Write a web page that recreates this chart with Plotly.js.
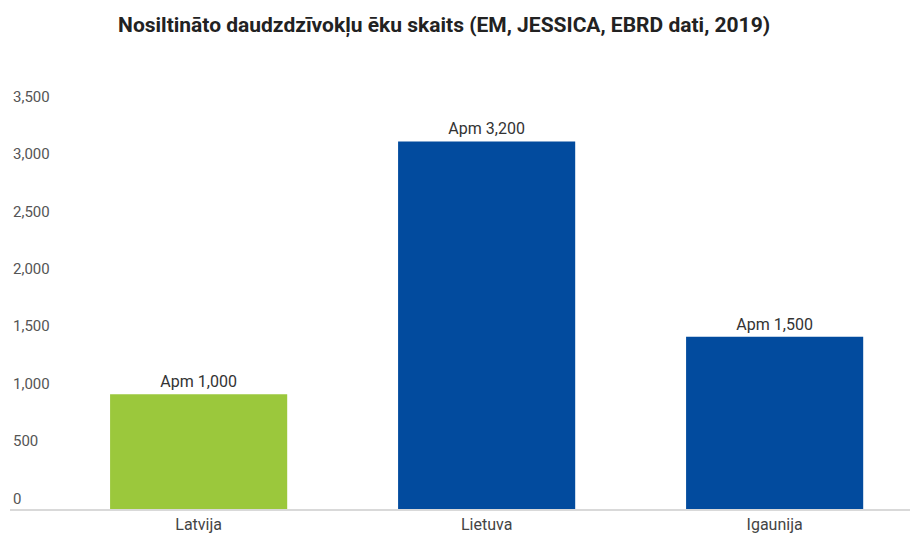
<!DOCTYPE html>
<html>
<head>
<meta charset="utf-8">
<script src="https://cdn.plot.ly/plotly-3.0.1.min.js"></script>
<style>html,body{margin:0;padding:0;background:#fff;}#chart{width:910px;height:534px;}</style>
</head>
<body>
<div id="chart"></div>
<script>
const categories = ["Latvija", "Lietuva", "Igaunija"];
const values = [1000, 3200, 1500];
const valueLabels = ["Apm 1,000", "Apm 3,200", "Apm 1,500"];
const barColors = ["#9bc83c", "#024b9e", "#024b9e"];
const yTickVals = [0, 500, 1000, 1500, 2000, 2500, 3000, 3500];
const yTickText = ["0", "500", "1,000", "1,500", "2,000", "2,500", "3,000", "3,500"];

const trace = {
  type: "bar",
  x: categories,
  y: values,
  text: valueLabels,
  textposition: "outside",
  cliponaxis: false,
  textfont: {family: "Roboto", size: 16, color: "#333333"},
  marker: {color: barColors},
  hoverinfo: "none"
};

const layout = {
  width: 910, height: 534,
  margin: {l: 10, r: 0, t: 84, b: 25},
  paper_bgcolor: "#ffffff", plot_bgcolor: "#ffffff",
  bargap: 0.385,
  showlegend: false,
  title: {
    text: "Nosiltināto daudzdzīvokļu ēku skaits (EM, JESSICA, EBRD dati, 2019)",
    font: {family: "Roboto", size: 21, color: "#222222", weight: "bold"},
    x: 0.488, xanchor: "center", y: 0.953, yanchor: "middle"
  },
  xaxis: {
    range: [-0.655, 2.47],
    showline: true, linecolor: "#d9d9d9", linewidth: 1.5,
    showgrid: false, zeroline: false,
    ticks: "",
    tickfont: {family: "Roboto", size: 16, color: "#444444"},
    fixedrange: true
  },
  yaxis: {
    range: [0, 3700],
    tickvals: yTickVals, ticktext: yTickText,
    ticklabelposition: "inside top",
    showgrid: false, zeroline: false, showline: false,
    ticks: "",
    tickfont: {family: "Roboto", size: 15, color: "#555555"},
    fixedrange: true
  }
};

Plotly.newPlot("chart", [trace], layout, {displayModeBar: false, staticPlot: true});
</script>
</body>
</html>
